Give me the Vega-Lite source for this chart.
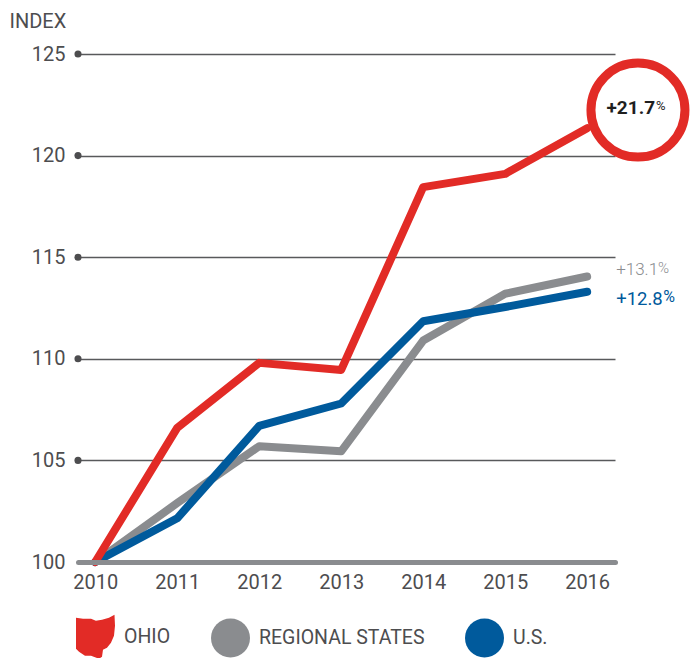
{
"$schema":"https://vega.github.io/schema/vega-lite/v6.json",
"width":537,"height":508,
"padding":{"left":78,"top":54,"right":81,"bottom":96},
"autosize":{"type":"none"},
"background":"white",
"datasets":{
"series":[
{"year":2010,"index":100,"series":"REGIONAL STATES"},{"year":2011,"index":102.9,"series":"REGIONAL STATES"},{"year":2012,"index":105.7,"series":"REGIONAL STATES"},{"year":2013,"index":105.45,"series":"REGIONAL STATES"},{"year":2014,"index":110.9,"series":"REGIONAL STATES"},{"year":2015,"index":113.2,"series":"REGIONAL STATES"},{"year":2016,"index":114.05,"series":"REGIONAL STATES"},
{"year":2010,"index":100,"series":"U.S."},{"year":2011,"index":102.15,"series":"U.S."},{"year":2012,"index":106.7,"series":"U.S."},{"year":2013,"index":107.8,"series":"U.S."},{"year":2014,"index":111.85,"series":"U.S."},{"year":2015,"index":112.55,"series":"U.S."},{"year":2016,"index":113.3,"series":"U.S."},
{"year":2010,"index":100,"series":"OHIO"},{"year":2011,"index":106.6,"series":"OHIO"},{"year":2012,"index":109.8,"series":"OHIO"},{"year":2013,"index":109.45,"series":"OHIO"},{"year":2014,"index":118.45,"series":"OHIO"},{"year":2015,"index":119.1,"series":"OHIO"},{"year":2016,"index":121.35,"series":"OHIO"}
],
"ticks":[{"year":2009.79,"index":125},{"year":2009.79,"index":120},{"year":2009.79,"index":115},{"year":2009.79,"index":110},{"year":2009.79,"index":105}]
},
"encoding":{
"x":{"field":"year","type":"quantitative","scale":{"domain":[2009.79,2016.34],"nice":false,"zero":false},
"axis":{"title":null,"values":[2010,2011,2012,2013,2014,2015,2016],"format":"d","grid":false,"ticks":false,"domain":true,"domainColor":"#8a8c8f","domainWidth":5,"domainCap":"round","labelFont":"Roboto","labelFontSize":20,"labelColor":"#4d4d4f","labelPadding":10,"labelFlush":false,"labelOverlap":false,"zindex":1}},
"y":{"field":"index","type":"quantitative","scale":{"domain":[100,125],"nice":false,"zero":false},
"axis":{"title":null,"values":[100,105,110,115,120,125],"grid":true,"gridColor":"#58595b","gridWidth":1.5,"ticks":false,"domain":false,"labelFont":"Roboto","labelFontSize":20,"labelColor":"#4d4d4f","labelPadding":13}}
},
"layer":[
{"data":{"name":"ticks"},"mark":{"type":"point","filled":true,"size":50,"color":"#4d4d4f","opacity":1,"clip":false}},
{"data":{"name":"series"},"transform":[{"filter":"datum.year==2010"}],"mark":{"type":"point","filled":true,"size":1,"opacity":1,"clip":false},
 "encoding":{
  "color":{"field":"series","type":"nominal","scale":{"domain":["OHIO","REGIONAL STATES","U.S."],"range":["#e22b26","#8a8c8f","#005a9c"]},
   "legend":{"title":null,"orient":"none","legendX":-2,"legendY":563,"direction":"horizontal","columns":3,"columnPadding":40,"symbolSize":1521,"symbolOpacity":1,"symbolStrokeWidth":0,"labelFont":"Roboto","labelFontSize":19.5,"labelColor":"#4d4d4f","labelOffset":9,"labelLimit":220}},
  "shape":{"field":"series","type":"nominal","scale":{"domain":["OHIO","REGIONAL STATES","U.S."],"range":["M-1,-0.974L-0.64,-0.92L-0.23,-0.92L0.02,-0.82L0.334,-0.872L0.692,-0.974L0.974,-1.128L1,-0.564L0.948,-0.052L0.794,0.308L0.59,0.564L0.384,0.666L0.334,1.026L0.18,1.128L-0.23,0.974L-0.54,0.974L-0.846,0.77L-1,0.616Z","circle","circle"]}}
 }},
{"data":{"name":"series"},"mark":{"type":"line","strokeWidth":8,"strokeCap":"round","strokeJoin":"round","clip":false},
 "encoding":{"stroke":{"field":"series","type":"nominal","legend":null,"scale":{"domain":["OHIO","REGIONAL STATES","U.S."],"range":["#e22b26","#8a8c8f","#005a9c"]}}}},
{"data":{"values":[{"year":2016.62,"index":122.24}]},"mark":{"type":"point","shape":"circle","filled":false,"fill":"white","fillOpacity":1,"stroke":"#e22b26","strokeWidth":9,"opacity":1,"size":8836,"clip":false}},
{"data":{"values":[{"year":2016.829,"index":122.34,"text":"+21.7"}]},"mark":{"type":"text","align":"right","baseline":"middle","font":"Roboto","fontWeight":"bold","fontSize":19,"color":"#1f1f1f","clip":false},"encoding":{"text":{"field":"text"}}},
{"data":{"values":[{"year":2016.841,"index":122.44,"text":"%"}]},"mark":{"type":"text","align":"left","baseline":"middle","font":"Roboto","fontSize":13,"color":"#1f1f1f","clip":false},"encoding":{"text":{"field":"text"}}},
{"data":{"values":[{"year":2016.354,"index":114.37,"text":"+13.1"}]},"mark":{"type":"text","align":"left","baseline":"middle","font":"Roboto","fontWeight":300,"fontSize":17,"color":"#8a8c8f","clip":false},"encoding":{"text":{"field":"text"}}},
{"data":{"values":[{"year":2016.866,"index":114.45,"text":"%"}]},"mark":{"type":"text","align":"left","baseline":"middle","font":"Roboto","fontWeight":300,"fontSize":15,"color":"#8a8c8f","clip":false},"encoding":{"text":{"field":"text"}}},
{"data":{"values":[{"year":2016.354,"index":112.94,"text":"+12.8"}]},"mark":{"type":"text","align":"left","baseline":"middle","font":"Roboto","fontSize":18.5,"color":"#005a9c","clip":false},"encoding":{"text":{"field":"text"}}},
{"data":{"values":[{"year":2016.927,"index":113.02,"text":"%"}]},"mark":{"type":"text","align":"left","baseline":"middle","font":"Roboto","fontSize":16,"color":"#005a9c","clip":false},"encoding":{"text":{"field":"text"}}},
{"data":{"values":[{"year":2009.646,"index":126.57,"text":"INDEX"}]},"mark":{"type":"text","align":"right","baseline":"middle","font":"Roboto","fontSize":20,"color":"#4d4d4f","clip":false},"encoding":{"text":{"field":"text"}}}
],
"config":{"view":{"stroke":null}}
}
